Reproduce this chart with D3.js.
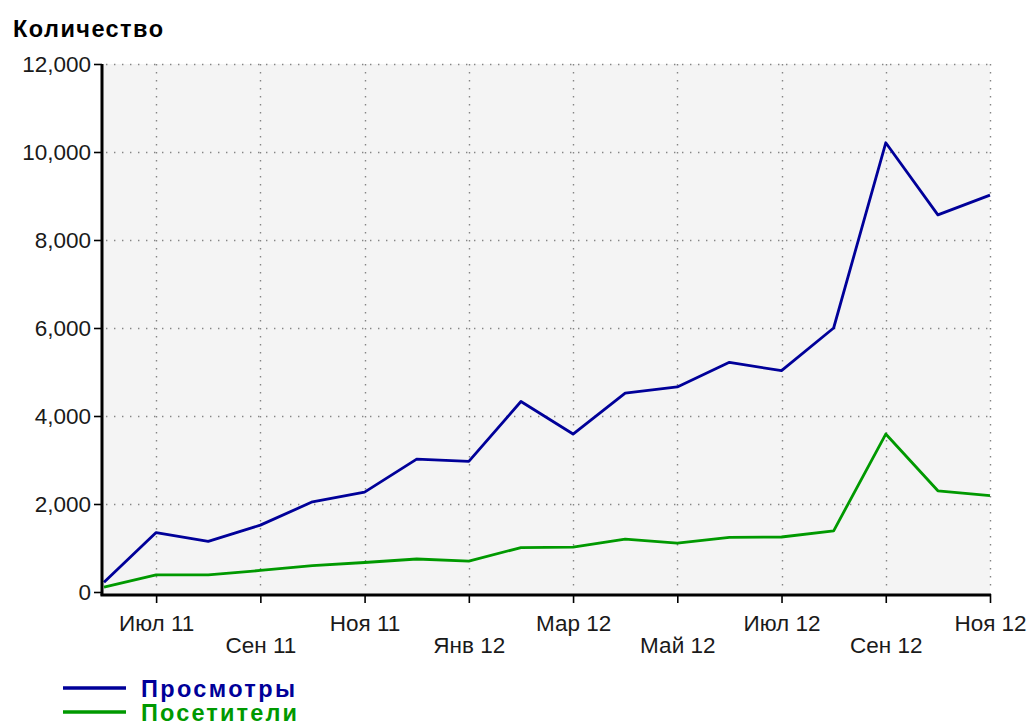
<!DOCTYPE html>
<html>
<head>
<meta charset="utf-8">
<script src="https://cdn.jsdelivr.net/npm/d3@7"></script>
<style>
  body { margin: 0; background: #fff; }
  svg { display: block; font-family: "Liberation Sans", Arial, sans-serif; }
</style>
</head>
<body>
<div id="chart"></div>
<script>
// monthly points, Jun 2011 .. Nov 2012
const months = ['Июн 11', 'Июл 11', 'Авг 11', 'Сен 11', 'Окт 11', 'Ноя 11', 'Дек 11', 'Янв 12', 'Фев 12',
  'Мар 12', 'Апр 12', 'Май 12', 'Июн 12', 'Июл 12', 'Авг 12', 'Сен 12', 'Окт 12', 'Ноя 12'];
const views = [220, 1350, 1150, 1520, 2050, 2270, 3020, 2970, 4330, 3590, 4520, 4660, 5220, 5030, 6000, 10210, 8570, 9020];
const visitors = [110, 390, 390, 490, 600, 670, 750, 700, 1010, 1020, 1200, 1110, 1240, 1250, 1390, 3590, 2300, 2190];
const xTickLabels = ['Июл 11', 'Сен 11', 'Ноя 11', 'Янв 12', 'Мар 12', 'Май 12', 'Июл 12', 'Сен 12', 'Ноя 12'];
const yTicks = [0, 2000, 4000, 6000, 8000, 10000, 12000];
const seriesNames = ['Просмотры', 'Посетители'];
const seriesColors = ['#000099', '#009900'];

const W = 1032, H = 727;
const plot = { left: 102, right: 990, top: 64, bottom: 594 };

const svg = d3.select('#chart').append('svg')
  .attr('width', W)
  .attr('height', H);

const x = d3.scalePoint()
  .domain(months)
  .range([plot.left + 2, plot.right]);

const y = d3.scaleLinear()
  .domain([0, 12000])
  .range([plot.bottom - 2, plot.top]);

// plot area
svg.append('rect')
  .attr('x', plot.left)
  .attr('y', plot.top)
  .attr('width', plot.right - plot.left)
  .attr('height', plot.bottom - plot.top)
  .attr('fill', '#f4f4f4');

// dotted grid
const grid = svg.append('g')
  .attr('stroke', '#858585')
  .attr('stroke-width', 1.4)
  .attr('stroke-dasharray', '1.4,6.6');

grid.selectAll('.hg')
  .data(yTicks.filter(d => d > 0))
  .join('line')
  .attr('x1', plot.left + 4).attr('x2', plot.right)
  .attr('y1', d => Math.round(y(d)) + 0.5)
  .attr('y2', d => Math.round(y(d)) + 0.5);

grid.selectAll('.vg')
  .data(xTickLabels)
  .join('line')
  .attr('x1', d => Math.round(x(d)) + 0.5)
  .attr('x2', d => Math.round(x(d)) + 0.5)
  .attr('y1', plot.top)
  .attr('y2', plot.bottom - 2);

// series lines
const line = d3.line()
  .x((d, i) => x(months[i]))
  .y(d => y(d));

[views, visitors].forEach((vals, i) => {
  svg.append('path')
    .datum(vals)
    .attr('fill', 'none')
    .attr('stroke', seriesColors[i])
    .attr('stroke-width', 2.8)
    .attr('stroke-linejoin', 'round')
    .attr('d', line);
});

// axes
const yAxis = svg.append('g')
  .attr('transform', `translate(${plot.left},0)`)
  .call(d3.axisLeft(y)
    .tickValues(yTicks)
    .tickFormat(d3.format(','))
    .tickSize(8)
    .tickSizeOuter(0)
    .tickPadding(3));

const xAxis = svg.append('g')
  .attr('transform', `translate(0,${plot.bottom})`)
  .call(d3.axisBottom(x)
    .tickValues(xTickLabels)
    .tickSize(9)
    .tickSizeOuter(0)
    .tickPadding(12));

[yAxis, xAxis].forEach(g => {
  g.select('.domain').remove();
  g.selectAll('.tick line').attr('stroke', '#000').attr('stroke-width', 1.6);
  g.selectAll('.tick text')
    .attr('font-family', '"Liberation Sans", Arial, sans-serif')
    .attr('font-size', 22.5)
    .attr('fill', '#1a1a1a');
});

xAxis.selectAll('.tick text')
  .attr('dy', (d, i) => i % 2 ? '1.68em' : '0.71em');

// thick axis lines
svg.append('line')
  .attr('x1', plot.left).attr('x2', plot.left)
  .attr('y1', plot.top).attr('y2', plot.bottom + 1.5)
  .attr('stroke', '#000').attr('stroke-width', 3);
svg.append('line')
  .attr('x1', plot.left - 1.5).attr('x2', plot.right + 1)
  .attr('y1', plot.bottom + 1).attr('y2', plot.bottom + 1)
  .attr('stroke', '#000').attr('stroke-width', 3);

// title
svg.append('text')
  .attr('x', 13)
  .attr('y', 37)
  .attr('font-size', 23.5)
  .attr('font-weight', 'bold')
  .attr('textLength', 150)
  .attr('lengthAdjust', 'spacing')
  .text('Количество');

// legend
const legend = svg.append('g');
seriesNames.forEach((name, i) => {
  const ly = 688 + i * 24;
  legend.append('line')
    .attr('x1', 63).attr('x2', 126)
    .attr('y1', ly).attr('y2', ly)
    .attr('stroke', seriesColors[i])
    .attr('stroke-width', 3.4);
  legend.append('text')
    .attr('x', 141)
    .attr('y', ly + 8.5)
    .attr('font-size', 23.5)
    .attr('font-weight', 'bold')
    .attr('fill', seriesColors[i])
    .attr('textLength', i ? 156 : 154)
    .attr('lengthAdjust', 'spacing')
    .text(name);
});
</script>
</body>
</html>
